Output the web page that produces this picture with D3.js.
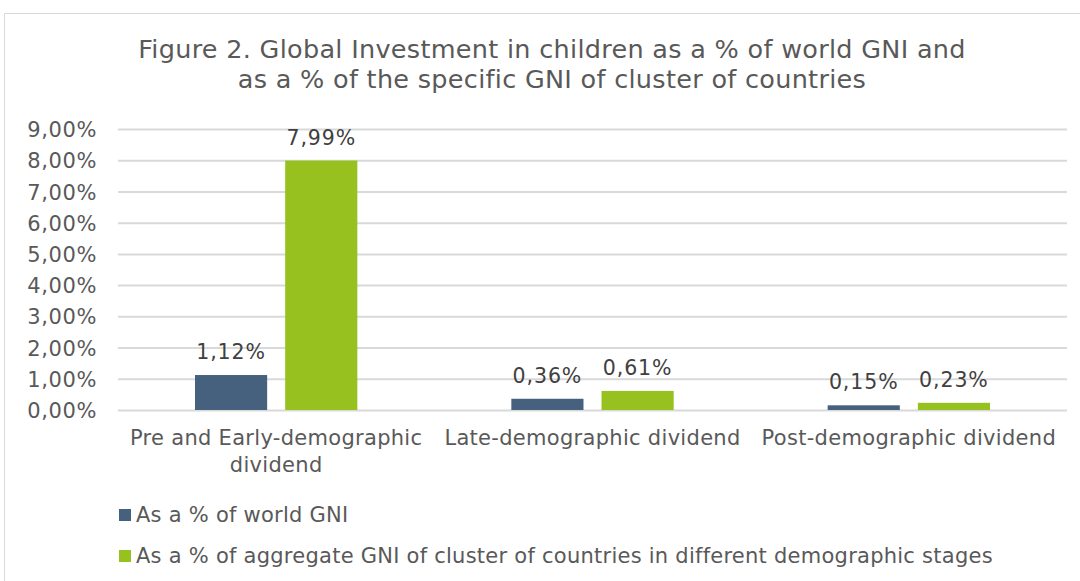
<!DOCTYPE html>
<html>
<head>
	<title>figure-2-investment</title>
	<script src="https://d3js.org/d3.v7.min.js"></script>
	<style>
		body { margin: 0; background: #fff; }
		text { font-family: "DejaVu Sans", Verdana, sans-serif; }
	</style>
</head>
<body>
	<svg width="1080" height="581"></svg>
	<script type="text/javascript">
		var categories = [['Pre and Early-demographic', 'dividend'], ['Late-demographic dividend'], ['Post-demographic dividend']];
		var seriesNames = ['As a % of world GNI', 'As a % of aggregate GNI of cluster of countries in different demographic stages'];
		var worldGni = [1.12, 0.36, 0.15];
		var clusterGni = [7.99, 0.61, 0.23];
		var yTicks = [0, 1, 2, 3, 4, 5, 6, 7, 8, 9];
		var colors = ['#46617e', '#97c11f'];

		var fmt = v => d3.format('.2f')(v).replace('.', ',') + '%';

		var svg = d3.select('svg');

		// outer border
		svg.append('rect')
			.attr('x', 4.5).attr('y', 13.5)
			.attr('width', 1090).attr('height', 600)
			.attr('fill', 'none').attr('stroke', '#d9d9d9');

		svg.append('text')
			.attr('x', 552).attr('y', 58)
			.attr('text-anchor', 'middle')
			.attr('font-size', 25.5).attr('letter-spacing', 0.3).attr('fill', '#595959')
			.selectAll('tspan')
			.data(['Figure 2. Global Investment in children as a % of world GNI and', 'as a % of the specific GNI of cluster of countries'])
			.enter().append('tspan')
			.attr('x', 552).attr('dy', (d, i) => i ? 30 : 0)
			.text(d => d);

		var x0 = d3.scaleBand()
			.domain(d3.range(categories.length))
			.range([118, 1067]);

		var x1 = d3.scaleBand()
			.domain([0, 1])
			.range([77, x0.bandwidth() - 77])
			.paddingInner(0.2);

		var y = d3.scaleLinear()
			.domain([0, 9])
			.range([410, 129]);

		var yAxis = svg.append('g')
			.attr('transform', 'translate(118,0)')
			.call(d3.axisLeft(y).tickValues(yTicks).tickSize(-949).tickFormat(fmt).tickPadding(21));
		yAxis.select('.domain').remove();
		yAxis.selectAll('line').attr('stroke', '#d9d9d9').attr('stroke-width', 2);
		yAxis.selectAll('text')
			.attr('font-size', 21).attr('letter-spacing', 0.6).attr('fill', '#595959')
			.attr('font-family', '"DejaVu Sans", Verdana, sans-serif')
			.attr('dy', '0.36em');

		var rows = categories.map((c, i) => [worldGni[i], clusterGni[i]]);

		var groups = svg.selectAll('.group')
			.data(rows)
			.enter().append('g')
			.attr('class', 'group')
			.attr('transform', (d, i) => 'translate(' + x0(i) + ',0)');

		groups.selectAll('rect')
			.data(d => d)
			.enter().append('rect')
			.attr('x', (d, i) => x1(i))
			.attr('y', d => y(d))
			.attr('width', x1.bandwidth())
			.attr('height', d => y(0) - y(d))
			.attr('fill', (d, i) => colors[i]);

		groups.selectAll('.lbl')
			.data(d => d)
			.enter().append('text')
			.attr('class', 'lbl')
			.attr('x', (d, i) => x1(i) + x1.bandwidth() / 2)
			.attr('y', d => y(d) - 16)
			.attr('text-anchor', 'middle')
			.attr('font-size', 20.5).attr('letter-spacing', 0.9).attr('fill', '#404040')
			.text(fmt);

		svg.selectAll('.cat')
			.data(categories)
			.enter().append('text')
			.attr('class', 'cat')
			.attr('x', (d, i) => x0(i) + x0.bandwidth() / 2)
			.attr('y', 445)
			.attr('text-anchor', 'middle')
			.attr('font-size', 21).attr('letter-spacing', 0.3).attr('fill', '#595959')
			.selectAll('tspan')
			.data(d => d)
			.enter().append('tspan')
			.attr('x', function () { return d3.select(this.parentNode).attr('x'); })
			.attr('dy', (d, i) => i ? 27 : 0)
			.text(d => d);

		var legend = svg.selectAll('.legend')
			.data(seriesNames)
			.enter().append('g')
			.attr('class', 'legend')
			.attr('transform', (d, i) => 'translate(119,' + (509 + i * 41) + ')');

		legend.append('rect')
			.attr('width', 12).attr('height', 12)
			.attr('fill', (d, i) => colors[i]);

		legend.append('text')
			.attr('x', 17).attr('y', 13)
			.attr('font-size', 21).attr('letter-spacing', 0.25).attr('fill', '#595959')
			.text(d => d);
	</script>
</body>
</html>
